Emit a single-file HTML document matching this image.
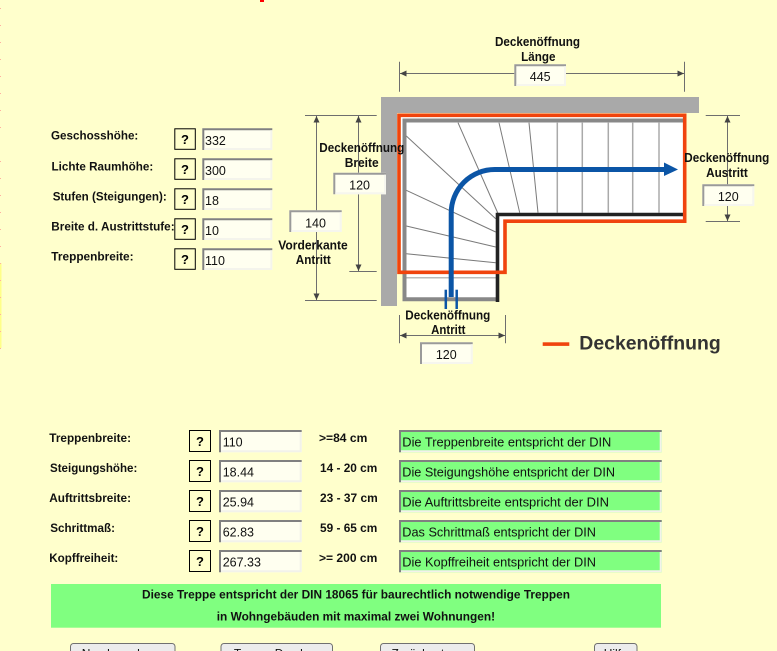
<!DOCTYPE html>
<html><head><meta charset="utf-8"><style>
html,body{margin:0;padding:0;background:#ffffcc;}
svg{display:block;}
text{font-family:"Liberation Sans",Arial,sans-serif;}
.lb{font-size:12px;font-weight:bold;fill:#111;}
.dl{font-size:12.5px;font-weight:bold;fill:#111;}
.nv{font-size:12.5px;fill:#111;}
.q{font-size:13px;font-weight:bold;fill:#000;}
</style></head><body>
<svg width="777" height="651" viewBox="0 0 777 651" xmlns="http://www.w3.org/2000/svg">
<rect width="777" height="651" fill="#ffffcc"/>
<rect x="260" y="0" width="4" height="2" fill="#ff0000"/>
<!-- left edge marks -->
<rect x="0" y="263" width="1.5" height="85" fill="#ffff88"/>
<g fill="#ffb0a0">
<rect x="0" y="8" width="1" height="1"/><rect x="0" y="25" width="1" height="1"/><rect x="0" y="42" width="1" height="1"/><rect x="0" y="59" width="1" height="1"/><rect x="0" y="76" width="1" height="1"/><rect x="0" y="93" width="1" height="1"/><rect x="0" y="110" width="1" height="1"/><rect x="0" y="127" width="1" height="1"/><rect x="0" y="161" width="1" height="1"/><rect x="0" y="178" width="1" height="1"/><rect x="0" y="195" width="1" height="1"/><rect x="0" y="212" width="1" height="1"/><rect x="0" y="229" width="1" height="1"/><rect x="0" y="246" width="1" height="1"/><rect x="0" y="263" width="1" height="1"/><rect x="0" y="280" width="1" height="1"/><rect x="0" y="297" width="1" height="1"/><rect x="0" y="314" width="1" height="1"/><rect x="0" y="331" width="1" height="1"/><rect x="0" y="348" width="1" height="1"/>
</g>

<!-- ===== Upper form ===== -->
<text class="lb" x="51" y="139.5" textLength="87.3" lengthAdjust="spacingAndGlyphs">Geschosshöhe:</text>
<text class="lb" x="51.5" y="170.3" textLength="101.7" lengthAdjust="spacingAndGlyphs">Lichte Raumhöhe:</text>
<text class="lb" x="52.7" y="200.3" textLength="114" lengthAdjust="spacingAndGlyphs">Stufen (Steigungen):</text>
<text class="lb" x="51.3" y="230.3" textLength="123.3" lengthAdjust="spacingAndGlyphs">Breite d. Austrittstufe:</text>
<text class="lb" x="51.3" y="260.3" textLength="82.3" lengthAdjust="spacingAndGlyphs">Treppenbreite:</text>

<g fill="#ffffcc" stroke="#000" stroke-width="1">
<rect x="174.8" y="128.8" width="20.5" height="20.5"/>
<rect x="174.8" y="158.8" width="20.5" height="20.5"/>
<rect x="174.8" y="188.8" width="20.5" height="20.5"/>
<rect x="174.8" y="218.8" width="20.5" height="20.5"/>
<rect x="174.8" y="248.8" width="20.5" height="20.5"/>
</g>
<g class="q" text-anchor="middle">
<text class="q" x="185" y="144">?</text>
<text class="q" x="185" y="174">?</text>
<text class="q" x="185" y="204">?</text>
<text class="q" x="185" y="234">?</text>
<text class="q" x="185" y="264">?</text>
</g>

<!-- upper inputs -->
<g>
<rect x="202.3" y="128.3" width="70" height="21.7" fill="#fffff0"/>
<rect x="202.3" y="158.3" width="70" height="21.7" fill="#fffff0"/>
<rect x="202.3" y="188.3" width="70" height="21.7" fill="#fffff0"/>
<rect x="202.3" y="218.3" width="70" height="21.7" fill="#fffff0"/>
<rect x="202.3" y="248.3" width="70" height="21.7" fill="#fffff0"/>
</g>
<g fill="none" stroke="#808080" stroke-width="2">
<path d="M203.3,150 V129.3 H272.3"/>
<path d="M203.3,180 V159.3 H272.3"/>
<path d="M203.3,210 V189.3 H272.3"/>
<path d="M203.3,240 V219.3 H272.3"/>
<path d="M203.3,270 V249.3 H272.3"/>
</g>
<g fill="none" stroke="#f4f4ec" stroke-width="2">
<path d="M204.3,149 H271.3 V130.3"/>
<path d="M204.3,179 H271.3 V160.3"/>
<path d="M204.3,209 H271.3 V190.3"/>
<path d="M204.3,239 H271.3 V220.3"/>
<path d="M204.3,269 H271.3 V250.3"/>
</g>
<text class="nv" x="205" y="145">332</text>
<text class="nv" x="205" y="175">300</text>
<text class="nv" x="205" y="205">18</text>
<text class="nv" x="205" y="235">10</text>
<text class="nv" x="205" y="265">110</text>

<!-- ===== Diagram ===== -->
<rect x="381" y="97" width="318" height="16" fill="#a9a9a9"/>
<rect x="381" y="97" width="16" height="209" fill="#a9a9a9"/>
<path d="M401,117 H683 V219.5 H503.3 V274 H401 Z" fill="#ffffff"/>
<rect x="404" y="272" width="93" height="28" fill="#ffffff"/>
<g stroke="#7a7a7a" stroke-width="1" fill="none">
<line x1="406.3" y1="136" x2="495.7" y2="218.7"/>
<line x1="406.3" y1="190.3" x2="495.7" y2="232"/>
<line x1="406.3" y1="226" x2="495.7" y2="247"/>
<line x1="406.3" y1="253.7" x2="495.7" y2="262.7"/>
<line x1="458" y1="122.7" x2="498" y2="213.5"/>
<line x1="499" y1="122.7" x2="519.7" y2="212.7"/>
<line x1="529" y1="122.7" x2="538" y2="212.7"/>
</g>
<g stroke="#aaaaaa" stroke-width="1.5" fill="none">
<line x1="557.3" y1="122.7" x2="557.3" y2="212.7"/>
<line x1="582.3" y1="122.7" x2="582.3" y2="212.7"/>
<line x1="608.3" y1="122.7" x2="608.3" y2="212.7"/>
<line x1="632.7" y1="122.7" x2="632.7" y2="212.7"/>
<line x1="659" y1="122.7" x2="659" y2="212.7"/>
</g>
<line x1="405" y1="277.7" x2="496" y2="277.7" stroke="#bbbbbb" stroke-width="1.5"/>
<path d="M497,299.3 H404.5 V120.5 H683" fill="none" stroke="#888888" stroke-width="4"/>
<path d="M683,214.5 H497.5 V302" fill="none" stroke="#222222" stroke-width="3.6"/>
<path d="M399,115.3 H684.7 V221.2 H505 V272.3 H399 Z" fill="none" stroke="#f0440e" stroke-width="3.6"/>
<path d="M451.2,297 V213 A43.5,43.5 0 0 1 494.7,169.5 H666" fill="none" stroke="#0b55a6" stroke-width="5"/>
<polygon points="664,162.5 678,169.5 664,176" fill="#0b55a6"/>
<line x1="445.8" y1="289.7" x2="445.8" y2="309" stroke="#0b55a6" stroke-width="2.5"/>
<line x1="456.7" y1="289.7" x2="456.7" y2="309" stroke="#0b55a6" stroke-width="2.5"/>

<!-- dimension lines -->
<g stroke="#6e6e6e" stroke-width="1" fill="none">
<line x1="399.5" y1="61.7" x2="399.5" y2="91.7"/>
<line x1="684.5" y1="61.7" x2="684.5" y2="91.7"/>
<line x1="400" y1="73.5" x2="684" y2="73.5"/>
<line x1="305" y1="115.5" x2="376.7" y2="115.5"/>
<line x1="305" y1="300.5" x2="376.7" y2="300.5"/>
<line x1="349.3" y1="271.5" x2="376.7" y2="271.5"/>
<line x1="316.5" y1="116" x2="316.5" y2="300"/>
<line x1="358.5" y1="116" x2="358.5" y2="271"/>
<line x1="705.7" y1="115.5" x2="740" y2="115.5"/>
<line x1="705.7" y1="221.5" x2="740" y2="221.5"/>
<line x1="727.5" y1="116" x2="727.5" y2="221"/>
<line x1="399.5" y1="315" x2="399.5" y2="343.3"/>
<line x1="505.5" y1="315" x2="505.5" y2="343.3"/>
<line x1="400" y1="335.5" x2="505" y2="335.5"/>
</g>
<g fill="#444">
<polygon points="400,73.5 406.5,70.5 406.5,76.5"/>
<polygon points="684,73.5 677.5,70.5 677.5,76.5"/>
<polygon points="316.5,116 313.5,122.5 319.5,122.5"/>
<polygon points="316.5,300 313.5,293.5 319.5,293.5"/>
<polygon points="358.5,116 355.5,122.5 361.5,122.5"/>
<polygon points="358.5,271 355.5,264.5 361.5,264.5"/>
<polygon points="727.5,116 724.5,122.5 730.5,122.5"/>
<polygon points="727.5,221 724.5,214.5 730.5,214.5"/>
<polygon points="400,335.5 406.5,332.5 406.5,338.5"/>
<polygon points="505,335.5 498.5,332.5 498.5,338.5"/>
</g>

<!-- dimension boxes -->
<g fill="#fffff0">
<rect x="514.3" y="64.3" width="51.7" height="21.7"/>
<rect x="333.3" y="172.7" width="52.7" height="21.6"/>
<rect x="289.3" y="210.3" width="52.4" height="21.7"/>
<rect x="702.3" y="184.3" width="52" height="21.7"/>
<rect x="420" y="342.3" width="52.7" height="21.7"/>
</g>
<g fill="none" stroke="#9a9a9a" stroke-width="2">
<path d="M515.3,86 V65.3 H566"/>
<path d="M334.3,194.3 V173.7 H386"/>
<path d="M290.3,232 V211.3 H341.7"/>
<path d="M703.3,206 V185.3 H754.3"/>
<path d="M421,364 V343.3 H472.7"/>
</g>
<g fill="none" stroke="#f6f6ee" stroke-width="2">
<path d="M516.3,85 H565 V66.3"/>
<path d="M335.3,193.3 H385 V174.7"/>
<path d="M291.3,231 H340.7 V212.3"/>
<path d="M704.3,205 H753.3 V186.3"/>
<path d="M422,363 H471.7 V344.3"/>
</g>
<g class="nv" text-anchor="middle">
<text class="nv" x="540.2" y="81">445</text>
<text class="nv" x="359.6" y="189.3">120</text>
<text class="nv" x="315.5" y="227.5">140</text>
<text class="nv" x="728.3" y="201">120</text>
<text class="nv" x="446.3" y="359">120</text>
</g>

<g text-anchor="middle">
<text class="dl" x="537.5" y="46" textLength="85" lengthAdjust="spacingAndGlyphs">Deckenöffnung</text>
<text class="dl" x="538.3" y="61" textLength="34.3" lengthAdjust="spacingAndGlyphs">Länge</text>
<text class="dl" x="361.8" y="152" textLength="85" lengthAdjust="spacingAndGlyphs">Deckenöffnung</text>
<text class="dl" x="361.7" y="167" textLength="34" lengthAdjust="spacingAndGlyphs">Breite</text>
<text class="dl" x="726.8" y="162" textLength="85" lengthAdjust="spacingAndGlyphs">Deckenöffnung</text>
<text class="dl" x="727" y="177" textLength="41.7" lengthAdjust="spacingAndGlyphs">Austritt</text>
<text class="dl" x="447.8" y="319.3" textLength="85" lengthAdjust="spacingAndGlyphs">Deckenöffnung</text>
<text class="dl" x="448.3" y="334" textLength="34.3" lengthAdjust="spacingAndGlyphs">Antritt</text>
<text class="dl" x="313" y="249.3" textLength="69.5" lengthAdjust="spacingAndGlyphs">Vorderkante</text>
<text class="dl" x="313.3" y="264" textLength="35" lengthAdjust="spacingAndGlyphs">Antritt</text>
</g>

<rect x="542.7" y="342.3" width="26.6" height="3.6" fill="#f0440e"/>
<text x="579.3" y="349.5" font-size="19.5" font-weight="bold" fill="#333" textLength="141.4" lengthAdjust="spacingAndGlyphs">Deckenöffnung</text>

<!-- ===== Lower form ===== -->
<text class="lb" x="49.3" y="442" textLength="81.7" lengthAdjust="spacingAndGlyphs">Treppenbreite:</text>
<text class="lb" x="50" y="472" textLength="87.3" lengthAdjust="spacingAndGlyphs">Steigungshöhe:</text>
<text class="lb" x="49.3" y="502" textLength="81.7" lengthAdjust="spacingAndGlyphs">Auftrittsbreite:</text>
<text class="lb" x="50.3" y="532" textLength="64.7" lengthAdjust="spacingAndGlyphs">Schrittmaß:</text>
<text class="lb" x="49.3" y="562" textLength="69" lengthAdjust="spacingAndGlyphs">Kopffreiheit:</text>

<g fill="#ffffcc" stroke="#000" stroke-width="1">
<rect x="189.5" y="430.5" width="21" height="21"/>
<rect x="189.5" y="460.5" width="21" height="21"/>
<rect x="189.5" y="490.5" width="21" height="21"/>
<rect x="189.5" y="520.5" width="21" height="21"/>
<rect x="189.5" y="550.5" width="21" height="21"/>
</g>
<g text-anchor="middle">
<text class="q" x="200" y="446.2">?</text>
<text class="q" x="200" y="476.2">?</text>
<text class="q" x="200" y="506.2">?</text>
<text class="q" x="200" y="536.2">?</text>
<text class="q" x="200" y="566.2">?</text>
</g>

<g fill="#fffff0">
<rect x="219" y="430" width="82.7" height="22.3"/>
<rect x="219" y="460" width="82.7" height="22.3"/>
<rect x="219" y="490" width="82.7" height="22.3"/>
<rect x="219" y="520" width="82.7" height="22.3"/>
<rect x="219" y="550" width="82.7" height="22.3"/>
</g>
<g fill="#80ff80">
<rect x="399" y="430" width="262.7" height="22.3"/>
<rect x="399" y="460" width="262.7" height="22.3"/>
<rect x="399" y="490" width="262.7" height="22.3"/>
<rect x="399" y="520" width="262.7" height="22.3"/>
<rect x="399" y="550" width="262.7" height="22.3"/>
</g>
<g fill="none" stroke="#808080" stroke-width="2">
<path d="M220,452.3 V431 H301.7"/><path d="M220,482.3 V461 H301.7"/><path d="M220,512.3 V491 H301.7"/><path d="M220,542.3 V521 H301.7"/><path d="M220,572.3 V551 H301.7"/>
<path d="M400,452.3 V431 H661.7"/><path d="M400,482.3 V461 H661.7"/><path d="M400,512.3 V491 H661.7"/><path d="M400,542.3 V521 H661.7"/><path d="M400,572.3 V551 H661.7"/>
</g>
<g fill="none" stroke="#f2f2ea" stroke-width="2">
<path d="M221,451.3 H300.7 V432"/><path d="M221,481.3 H300.7 V462"/><path d="M221,511.3 H300.7 V492"/><path d="M221,541.3 H300.7 V522"/><path d="M221,571.3 H300.7 V552"/>
<path d="M401,451.3 H660.7 V432"/><path d="M401,481.3 H660.7 V462"/><path d="M401,511.3 H660.7 V492"/><path d="M401,541.3 H660.7 V522"/><path d="M401,571.3 H660.7 V552"/>
</g>
<text class="nv" x="222.7" y="446.7">110</text>
<text class="nv" x="222.7" y="476.7">18.44</text>
<text class="nv" x="222.7" y="506.7">25.94</text>
<text class="nv" x="222.7" y="536.7">62.83</text>
<text class="nv" x="222.7" y="566.7">267.33</text>

<text class="lb" x="319" y="442" textLength="48.3" lengthAdjust="spacingAndGlyphs">&gt;=84 cm</text>
<text class="lb" x="320" y="472" textLength="57.3" lengthAdjust="spacingAndGlyphs">14 - 20 cm</text>
<text class="lb" x="320" y="502" textLength="57.7" lengthAdjust="spacingAndGlyphs">23 - 37 cm</text>
<text class="lb" x="320" y="532" textLength="57.3" lengthAdjust="spacingAndGlyphs">59 - 65 cm</text>
<text class="lb" x="319" y="562" textLength="58.3" lengthAdjust="spacingAndGlyphs">&gt;= 200 cm</text>

<text class="nv" x="402.3" y="446.7" textLength="209" lengthAdjust="spacingAndGlyphs">Die Treppenbreite entspricht der DIN</text>
<text class="nv" x="402.3" y="476.7" textLength="212.7" lengthAdjust="spacingAndGlyphs">Die Steigungshöhe entspricht der DIN</text>
<text class="nv" x="402.3" y="506.7" textLength="206.7" lengthAdjust="spacingAndGlyphs">Die Auftrittsbreite entspricht der DIN</text>
<text class="nv" x="402.3" y="536.7" textLength="193.7" lengthAdjust="spacingAndGlyphs">Das Schrittmaß entspricht der DIN</text>
<text class="nv" x="402.3" y="566.7" textLength="193.7" lengthAdjust="spacingAndGlyphs">Die Kopffreiheit entspricht der DIN</text>

<rect x="51" y="584" width="610" height="43.7" fill="#80ff80"/>
<text class="lb" x="356" y="598.7" text-anchor="middle" textLength="428" lengthAdjust="spacingAndGlyphs">Diese Treppe entspricht der DIN 18065 für baurechtlich notwendige Treppen</text>
<text class="lb" x="355.9" y="620.5" text-anchor="middle" textLength="278.3" lengthAdjust="spacingAndGlyphs">in Wohngebäuden mit maximal zwei Wohnungen!</text>

<g fill="#ececec" stroke="#707070" stroke-width="1">
<rect x="70.5" y="643.5" width="104.5" height="20" rx="3"/>
<rect x="221" y="643.5" width="111.5" height="20" rx="3"/>
<rect x="380.5" y="643.5" width="94" height="20" rx="3"/>
<rect x="594.5" y="643.5" width="42.5" height="20" rx="3"/>
</g>
<g font-size="12" fill="#111" text-anchor="middle">
<text x="122.8" y="657.5">Neu berechnen</text>
<text x="276.7" y="657.5">Treppe Drucken</text>
<text x="427.5" y="657.5">Zurücksetzen</text>
<text x="615.7" y="657.5">Hilfe</text>
</g>
</svg>
</body></html>
